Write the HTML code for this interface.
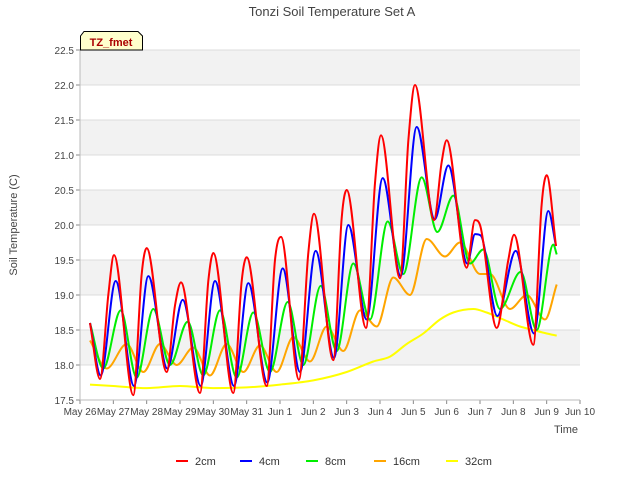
<!DOCTYPE html>
<html><head><meta charset="utf-8"><style>
body{margin:0;background:#fff;font-family:"Liberation Sans",sans-serif}
svg text{font-family:"Liberation Sans",sans-serif}
</style></head><body>
<svg id="chart" width="640" height="480" xmlns="http://www.w3.org/2000/svg">
<rect width="640" height="480" fill="#fff"/>
<g id="bands"></g><g id="grid"></g><g id="series"></g><g id="axes"></g>
<text x="332" y="16" text-anchor="middle" font-size="13" fill="#444">Tonzi Soil Temperature Set A</text>
<text x="17" y="225" text-anchor="middle" font-size="11" fill="#444" transform="rotate(-90 17 225)">Soil Temperature (C)</text>
<text x="566" y="433" text-anchor="middle" font-size="11" fill="#444">Time</text>
<g>
<path d="M80.5,50 L80.5,36 L84,31.5 L138,31.5 L142.5,36 L142.5,50 Z" fill="#ffffcc" stroke="#000" stroke-width="1"/>
<text x="111" y="46" text-anchor="middle" font-size="11" font-weight="bold" fill="#aa0000">TZ_fmet</text>
</g>
<g id="legend"></g>
</svg>
<script>
const yTicks=[17.5,18,18.5,19,19.5,20,20.5,21,21.5,22,22.5];
const xLabels=["May 26","May 27","May 28","May 29","May 30","May 31","Jun 1","Jun 2","Jun 3","Jun 4","Jun 5","Jun 6","Jun 7","Jun 8","Jun 9","Jun 10"];
const seriesNames=["2cm","4cm","8cm","16cm","32cm"];
const seriesColors=["#ff0000","#0000ff","#00ee00","#ffa500","#ffff00"];
const t2=[0.3,0.6,0.85,1.02,1.6,1.85,2.0,2.6,2.85,3.03,3.6,3.85,4.0,4.6,4.85,5.0,5.6,5.85,6.03,6.57,6.85,7.02,7.6,7.85,8.0,8.58,8.85,9.03,9.6,9.85,10.05,10.62,10.85,11.0,11.6,11.85,12.0,12.5,12.85,13.02,13.6,13.85,14.0,14.28];
const v2=[18.6,17.8,19.0,19.57,17.57,19.3,19.67,17.9,18.85,19.18,17.6,19.2,19.6,17.6,19.2,19.54,17.7,19.5,19.83,17.79,19.6,20.16,18.07,20.1,20.5,18.53,20.6,21.28,19.24,21.2,22.0,20.07,20.9,21.21,19.39,20.07,20.0,18.53,19.5,19.86,18.29,20.3,20.71,19.7];
const t4=[0.3,0.62,1.07,1.62,2.05,2.62,3.08,3.62,4.05,4.62,5.05,5.62,6.08,6.6,7.07,7.62,8.05,8.6,9.08,9.62,10.1,10.64,11.05,11.62,11.85,12.02,12.52,13.07,13.62,14.05,14.28];
const v4=[18.6,17.85,19.2,17.7,19.27,17.95,18.93,17.7,19.2,17.7,19.17,17.75,19.38,17.9,19.63,18.1,20.0,18.65,20.67,19.27,21.4,20.08,20.85,19.45,19.87,19.85,18.7,19.63,18.45,20.2,19.7];
const t8=[0.3,0.7,1.22,1.7,2.2,2.7,3.23,3.7,4.2,4.7,5.2,5.7,6.23,6.7,7.22,7.7,8.2,8.7,9.23,9.7,10.25,10.72,11.2,11.7,12.1,12.6,13.22,13.7,14.2,14.3];
const v8=[18.6,17.95,18.78,17.82,18.8,18.0,18.62,17.85,18.78,17.82,18.75,17.9,18.9,18.0,19.13,18.2,19.45,18.65,20.05,19.3,20.68,19.9,20.42,19.45,19.65,18.8,19.33,18.5,19.72,19.58];
const t16=[0.3,0.8,1.4,1.9,2.4,2.9,3.4,3.9,4.4,4.9,5.4,5.9,6.4,6.9,7.4,7.9,8.4,8.9,9.4,9.9,10.4,10.95,11.4,12.0,12.3,12.9,13.4,13.95,14.3];
const v16=[18.35,17.95,18.3,17.9,18.3,18.0,18.25,17.85,18.3,17.9,18.28,17.9,18.4,18.05,18.55,18.2,18.78,18.55,19.25,19.0,19.8,19.55,19.75,19.3,19.3,18.8,19.0,18.65,19.15];
const t32=[0.3,1,2,3,4,5,6,7,8,8.8,9.3,9.8,10.3,10.8,11.2,11.8,12.2,12.7,13.2,13.6,14.0,14.3];
const v32=[17.72,17.7,17.67,17.7,17.67,17.68,17.72,17.78,17.9,18.05,18.12,18.3,18.45,18.65,18.75,18.8,18.75,18.65,18.55,18.5,18.45,18.42];
const seriesT=[t2,t4,t8,t16,t32], seriesV=[v2,v4,v8,v16,v32];
const X0=80,X1=580,Y0=400,Y1=50;
const xs=t=>X0+t*(X1-X0)/15;
const ys=v=>Y0-(v-17.5)*(Y0-Y1)/5;
const NS="http://www.w3.org/2000/svg";
function mk(tag,attrs,parent){const e=document.createElementNS(NS,tag);for(const k in attrs)e.setAttribute(k,attrs[k]);parent.appendChild(e);return e;}
const bands=document.getElementById('bands'),grid=document.getElementById('grid'),axes=document.getElementById('axes'),ser=document.getElementById('series'),leg=document.getElementById('legend');
mk('rect',{x:X0,y:Y1,width:X1-X0,height:Y0-Y1,fill:'#fff'},bands);
for(let i=0;i<yTicks.length-1;i++){ if(i%2===1){const r=mk('rect',{x:X0,y:ys(yTicks[i+1]),width:X1-X0,height:ys(yTicks[i])-ys(yTicks[i+1]),fill:'#f2f2f2'},bands);

}}
yTicks.forEach(v=>{const y=ys(v);
const g=mk('line',{x1:X0,x2:X1,y1:y,y2:y,stroke:'#dcdcdc','stroke-width':1},grid);


const t=mk('text',{x:X0-6,y:y+4,'text-anchor':'end','font-size':10,fill:'#444'},axes);t.textContent=v.toFixed(1);


mk('line',{x1:X0-4,x2:X0,y1:y,y2:y,stroke:'#888'},axes);});
xLabels.forEach((l,i)=>{const x=xs(i);
mk('line',{x1:x,x2:x,y1:Y0,y2:Y0+4,stroke:'#888'},axes);
const t=mk('text',{x:x,y:Y0+15,'text-anchor':'middle','font-size':10,fill:'#444'},axes);t.textContent=l;

});
mk('line',{x1:X0,x2:X0,y1:Y1,y2:Y0,stroke:'#bbb'},axes);
mk('line',{x1:X0,x2:X1,y1:Y0,y2:Y0,stroke:'#bbb'},axes);
function monotone(P){const n=P.length,d=[],m=[];
for(let i=0;i<n-1;i++)d.push((P[i+1][1]-P[i][1])/(P[i+1][0]-P[i][0]));
for(let i=0;i<n;i++){if(i===0)m.push(d[0]);else if(i===n-1)m.push(d[n-2]);else m.push(d[i-1]*d[i]<=0?0:(d[i-1]+d[i])/2);}
for(let i=0;i<n-1;i++){if(d[i]===0){m[i]=0;m[i+1]=0;continue;}const a=m[i]/d[i],b=m[i+1]/d[i],s=a*a+b*b;if(s>9){const t=3/Math.sqrt(s);m[i]=t*a*d[i];m[i+1]=t*b*d[i];}}
let s=`M${P[0][0].toFixed(1)},${P[0][1].toFixed(1)}`;
for(let i=0;i<n-1;i++){const h=(P[i+1][0]-P[i][0])/3;
s+=` C${(P[i][0]+h).toFixed(1)},${(P[i][1]+m[i]*h).toFixed(1)} ${(P[i+1][0]-h).toFixed(1)},${(P[i+1][1]-m[i+1]*h).toFixed(1)} ${P[i+1][0].toFixed(1)},${P[i+1][1].toFixed(1)}`;}
return s;}
for(let s=4;s>=0;s--){const P=seriesT[s].map((t,i)=>[xs(t),ys(seriesV[s][i])]);
const p=mk('path',{d:monotone(P),fill:'none',stroke:seriesColors[s],'stroke-width':2,'stroke-linejoin':'round'},ser);

}
const lx=[176,240,306,374,446];
seriesNames.forEach((n,i)=>{const g=mk('g',{},leg);


mk('line',{x1:lx[i],x2:lx[i]+12,y1:461,y2:461,stroke:seriesColors[i],'stroke-width':2},g);
const t=mk('text',{x:lx[i]+19,y:465,'font-size':11,fill:'#333'},g);t.textContent=n;});
</script>
</body></html>
